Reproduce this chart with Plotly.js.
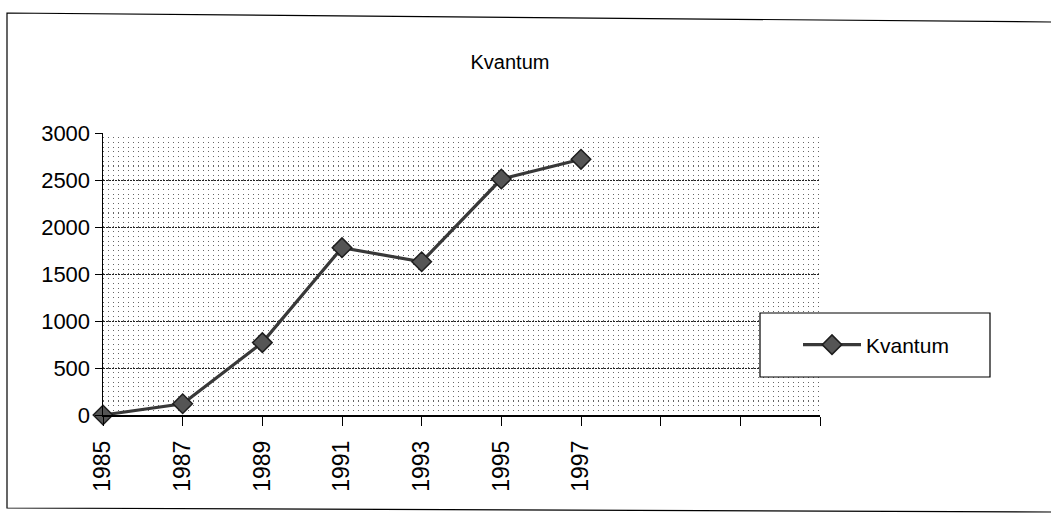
<!DOCTYPE html>
<html>
<head>
<meta charset="utf-8">
<script src="https://cdn.plot.ly/plotly-3.0.1.min.js"></script>
<style>
  html, body { margin: 0; padding: 0; background: #fff; }
  #chart { width: 1051px; height: 517px; }
</style>
</head>
<body>
<div id="chart"></div>
<script>
// Data
const years = [1985, 1987, 1989, 1991, 1993, 1995, 1997];
const kvantum = [0, 120, 770, 1780, 1630, 2510, 2720];
// Category axis positions (3 empty categories after 1997)
const tickYears = [1985, 1987, 1989, 1991, 1993, 1995, 1997, 1999, 2001, 2003];
const tickLabels = ['1985', '1987', '1989', '1991', '1993', '1995', '1997', '', '', ''];
const seriesName = 'Kvantum';
const chartTitle = 'Kvantum';

const FONT = 'Liberation Sans, Arial, sans-serif';
const L = 103, R = 820, T = 133, B = 415, W = 1051, H = 517;
const px = x => (x - L) / (R - L);
const py = y => (B - y) / (B - T);

const trace = {
  x: years,
  y: kvantum,
  type: 'scatter',
  mode: 'lines+markers',
  name: seriesName,
  cliponaxis: false,
  line: { color: '#383838', width: 3.2 },
  marker: { symbol: 'diamond', size: 15, color: '#555', line: { color: '#1e1e1e', width: 1.5 } }
};

const layout = {
  width: W, height: H,
  margin: { l: L, r: W - R, t: T, b: H - B, pad: 0 },
  paper_bgcolor: '#fff',
  plot_bgcolor: '#fff',
  font: { family: FONT, color: '#000', size: 20 },
  title: {
    text: chartTitle,
    font: { family: FONT, size: 20, color: '#000' },
    xref: 'container', yref: 'container',
    x: 510 / W, xanchor: 'center',
    y: 1 - 62 / H, yanchor: 'middle'
  },
  showlegend: true,
  legend: {
    x: px(798), xanchor: 'left',
    y: py(345), yanchor: 'middle',
    bgcolor: 'rgba(0,0,0,0)',
    borderwidth: 0,
    font: { family: FONT, size: 21, color: '#000' },
    itemwidth: 58
  },
  xaxis: {
    type: 'linear',
    range: [1985, 2003],
    tickmode: 'array',
    tickvals: tickYears,
    ticktext: tickLabels,
    tickangle: -90,
    ticks: 'outside',
    ticklen: 9,
    tickcolor: '#000',
    tickwidth: 1,
    ticklabelstandoff: 6,
    showline: true,
    linecolor: '#000',
    linewidth: 1.5,
    showgrid: false,
    zeroline: false,
    tickfont: { family: FONT, size: 23, color: '#000' },
    fixedrange: true
  },
  yaxis: {
    range: [0, 3000],
    tickvals: [0, 500, 1000, 1500, 2000, 2500, 3000],
    ticks: 'outside',
    ticklen: 7,
    tickcolor: '#000',
    showline: true,
    linecolor: '#000',
    linewidth: 1.5,
    showgrid: true,
    gridcolor: '#222',
    gridwidth: 1,
    griddash: '2px,1px',
    zeroline: false,
    tickfont: { family: FONT, size: 22, color: '#000' },
    minor: {
      dtick: 50,
      showgrid: true,
      gridcolor: '#666',
      gridwidth: 1.2,
      griddash: '1.3px,3.7px',
      ticks: ''
    },
    fixedrange: true
  },
  shapes: [
    // legend box
    { type: 'rect', xref: 'paper', yref: 'paper',
      x0: px(760), x1: px(990), y0: py(377), y1: py(313),
      line: { color: '#000', width: 1.2 }, fillcolor: '#fff', layer: 'above' },
    // outer chart border
    { type: 'path', xref: 'paper', yref: 'paper',
      path: 'M ' + px(1051) + ',' + py(22) + ' L ' + px(7) + ',' + py(13) +
            ' L ' + px(7) + ',' + py(508) + ' L ' + px(1051) + ',' + py(512),
      line: { color: '#000', width: 1.2 } }
  ]
};

Plotly.newPlot('chart', [trace], layout, { displayModeBar: false, staticPlot: true });
</script>
</body>
</html>
